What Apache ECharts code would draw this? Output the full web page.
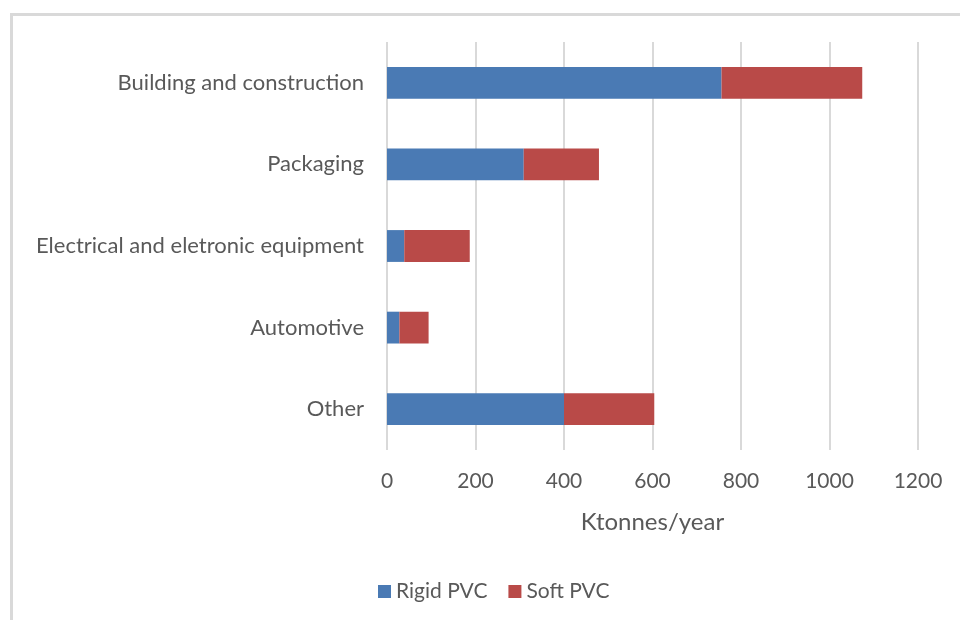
<!DOCTYPE html>
<html>
<head>
<meta charset="utf-8">
<script src="https://cdn.jsdelivr.net/npm/echarts@6/dist/echarts.min.js"></script>
<style>
  html, body { margin: 0; padding: 0; background: #fff; }
  #chart { width: 960px; height: 620px; }
</style>
</head>
<body>
<div id="chart"></div>
<script>
// PVC demand by application, Ktonnes/year
const categories = ['Building and construction', 'Packaging', 'Electrical and eletronic equipment', 'Automotive', 'Other'];
const rigidPVC = [756, 309, 39, 28, 400];
const softPVC = [318, 170, 148, 66, 204];
const xTicks = [0, 200, 400, 600, 800, 1000, 1200];

const FONT = 'Lato, "Open Sans", sans-serif';
const TEXT = '#595959';

const chart = echarts.init(document.getElementById('chart'), null, { renderer: 'canvas' });

chart.setOption({
  animation: false,
  backgroundColor: '#ffffff',
  graphic: [{
    type: 'rect',
    shape: { x: 11.5, y: 14.5, width: 1000, height: 1000 },
    style: { fill: 'none', stroke: '#d9d9d9', lineWidth: 3 },
    silent: true
  }],
  grid: { left: 387, right: 42, top: 42, bottom: 170, containLabel: false },
  legend: {
    bottom: 13,
    left: 373,
    itemWidth: 13,
    itemHeight: 13,
    itemGap: 21,
    icon: 'rect',
    textStyle: { color: TEXT, fontFamily: FONT, fontSize: 21 },
    data: ['Rigid PVC', 'Soft PVC']
  },
  xAxis: {
    type: 'value',
    min: xTicks[0],
    max: xTicks[xTicks.length - 1],
    interval: 200,
    name: 'Ktonnes/year',
    nameLocation: 'middle',
    nameGap: 60,
    nameTextStyle: { color: TEXT, fontFamily: FONT, fontSize: 24 },
    axisLine: { show: false },
    axisTick: { show: false },
    axisLabel: { color: TEXT, fontFamily: FONT, fontSize: 21, margin: 21, formatter: v => String(v) },
    splitLine: { show: true, lineStyle: { color: '#d9d9d9', width: 2 } }
  },
  yAxis: {
    type: 'category',
    inverse: true,
    data: categories,
    axisLine: { show: false },
    axisTick: { show: false },
    axisLabel: { color: TEXT, fontFamily: FONT, fontSize: 22, margin: 23 }
  },
  series: [
    {
      name: 'Rigid PVC',
      type: 'bar',
      stack: 'pvc',
      data: rigidPVC,
      barWidth: '39%',
      itemStyle: { color: '#4a7ab4' }
    },
    {
      name: 'Soft PVC',
      type: 'bar',
      stack: 'pvc',
      data: softPVC,
      barWidth: '39%',
      itemStyle: { color: '#b94a48' }
    }
  ]
});
</script>
</body>
</html>
